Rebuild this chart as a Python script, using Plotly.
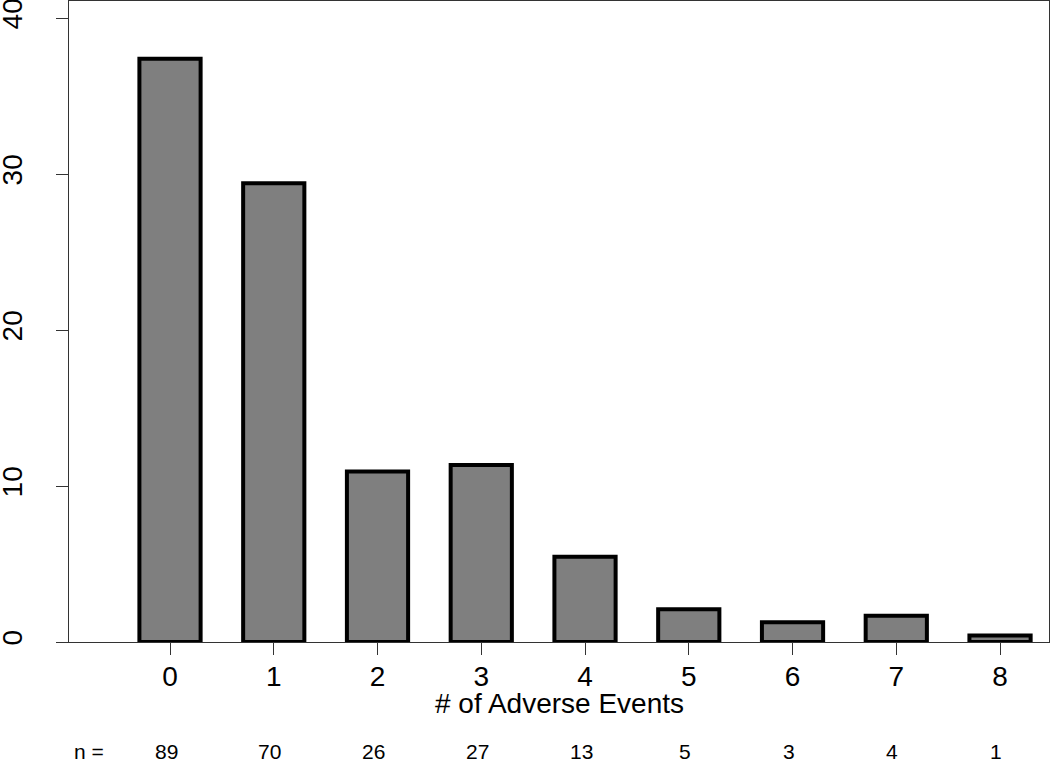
import plotly.graph_objects as go

# Data
events = [0, 1, 2, 3, 4, 5, 6, 7, 8]
counts = [89, 70, 26, 27, 13, 5, 3, 4, 1]
total = sum(counts)
percent = [100.0 * c / total for c in counts]
y_ticks = [0, 10, 20, 30, 40]
x_title = "# of Adverse Events"
n_prefix = "n ="

FONT = "Liberation Sans, Arial, sans-serif"
AX = "#333333"

fig = go.Figure()
fig.add_trace(go.Bar(
    x=events, y=percent, width=0.59,
    marker=dict(color="#7f7f7f", line=dict(color="black", width=4)),
    hoverinfo="skip",
))

N_Y = -0.1716
annotations = [dict(x=-0.78, y=N_Y, xref="x", yref="paper", text=n_prefix,
                    showarrow=False, xanchor="center", yanchor="middle",
                    font=dict(family=FONT, size=21, color="black"))]
for e, c in zip(events, counts):
    annotations.append(dict(x=e, y=N_Y, xref="x", yref="paper", text=str(c),
                            showarrow=False, xanchor="center", yanchor="middle",
                            xshift=-4,
                            font=dict(family=FONT, size=21, color="black")))
annotations.append(dict(x=0.5, y=-0.0967, xref="paper", yref="paper", text=x_title,
                        showarrow=False, xanchor="center", yanchor="middle",
                        font=dict(family=FONT, size=28, color="black")))

fig.update_layout(
    template="none",
    width=1050, height=761,
    margin=dict(l=69, r=1, t=1, b=119, autoexpand=False),
    plot_bgcolor="white", paper_bgcolor="white",
    showlegend=False,
    font=dict(family=FONT, size=28, color="black"),
    annotations=annotations,
    xaxis=dict(
        range=[-0.9735, 8.472], tickvals=events, ticktext=[str(e) for e in events],
        automargin=False,
        showgrid=False, zeroline=False, showline=True, mirror=True,
        linecolor=AX, linewidth=1, ticks="outside", ticklen=12, tickcolor=AX,
        tickwidth=1, tickfont=dict(size=28, family=FONT, color="black"),
        ticklabelstandoff=-3,
    ),
    yaxis=dict(
        range=[0, 41.09], tickvals=y_ticks, ticktext=[str(v) for v in y_ticks],
        automargin=False, ticklabeloverflow="allow",
        tickangle=-90, showgrid=False, zeroline=False, showline=True, mirror=True,
        linecolor=AX, linewidth=1, ticks="outside", ticklen=12, tickcolor=AX,
        tickwidth=1, tickfont=dict(size=28, family=FONT, color="black"),
        ticklabelstandoff=23,
    ),
)

fig.write_html("out.html", config={"displayModeBar": False},
               post_script="document.body.style.margin='0px';document.body.style.overflow='hidden';")
